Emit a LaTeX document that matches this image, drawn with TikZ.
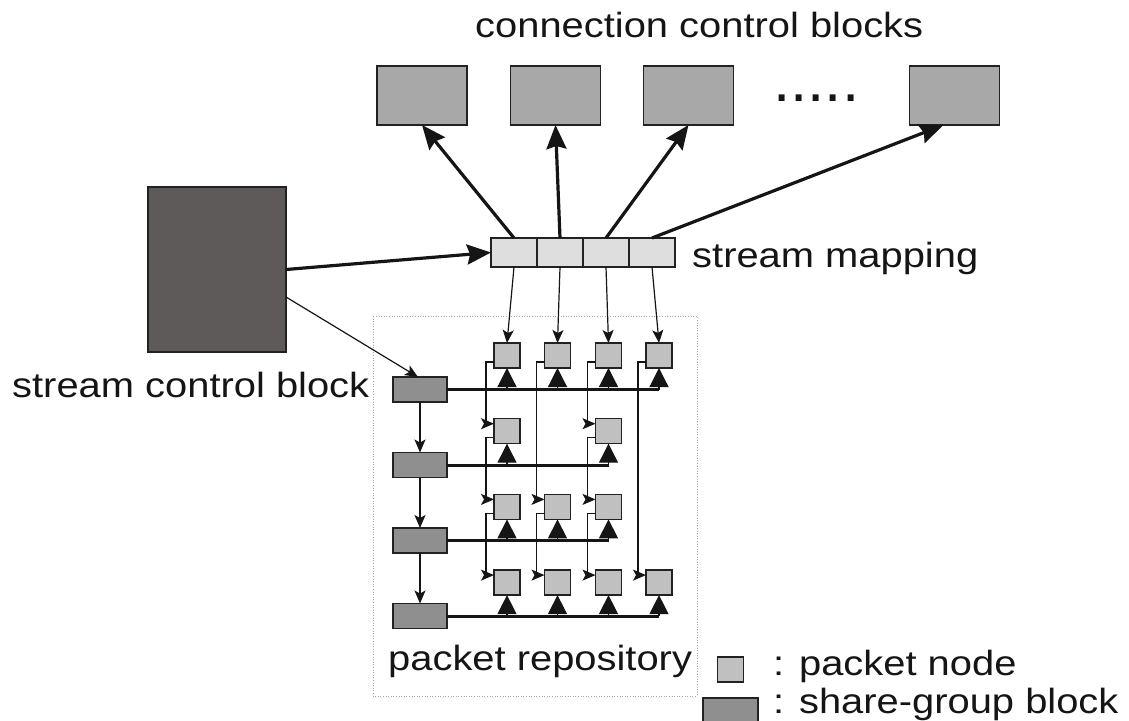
\documentclass[tikz,border=0pt]{standalone}
\usepackage{fontspec}
\setmainfont{Liberation Sans}[FakeStretch=1.14]
\newfontfamily\dotfont{Liberation Sans}
\usetikzlibrary{arrows.meta,calc}

\definecolor{ccbgray}{HTML}{A8A8A8}
\definecolor{scbgray}{HTML}{5E5A59}
\definecolor{mapgray}{HTML}{DEDEDE}
\definecolor{pktgray}{HTML}{C0C0C0}
\definecolor{sgbgray}{HTML}{8F8F8F}
\definecolor{edge}{HTML}{222222}
\definecolor{ink}{HTML}{151515}

\begin{document}
\begin{tikzpicture}[x=1pt,y=-1pt,
  box/.style={draw=edge, line width=1.3pt, inner sep=0pt, outer sep=0pt},
  ccb/.style={box, fill=ccbgray, minimum width=90pt, minimum height=59pt},
  scb/.style={box, fill=scbgray, minimum width=138pt, minimum height=165pt},
  mapcell/.style={box, fill=mapgray, minimum width=46pt, minimum height=29pt},
  pkt/.style={box, fill=pktgray, minimum width=26pt, minimum height=25pt},
  sgb/.style={box, fill=sgbgray, minimum width=54pt, minimum height=25pt},
  lbl/.style={inner sep=0pt, anchor=base west, text=ink, font=\fontsize{35}{42}\selectfont},
  bigarrow/.style={draw=ink, line width=3.2pt, -{Stealth[length=24pt,width=20pt,inset=3pt]}},
  thinarrow/.style={draw=ink, line width=1.2pt, -{Stealth[length=13pt,width=11pt,inset=3pt]}},
  ptr/.style={draw=ink, line width=1.2pt, -{Stealth[length=13pt,width=11pt,inset=3pt]}},
  bus/.style={draw=ink, line width=3pt},
  uparrow/.style={draw=ink, line width=1.2pt, -{Triangle[length=19pt,width=19pt]}},
]
\useasboundingbox (0,0) rectangle (1129,720);
\clip (0,0) rectangle (1129,720);

% connection control blocks
\node[lbl] (title) at (475,37) {connection control blocks};
\node[ccb] (c1) at (422,95.5) {};
\node[ccb] (c2) at (555.5,95.5) {};
\node[ccb] (c3) at (688.5,95.5) {};
\node[ccb] (c4) at (954.5,95.5) {};
\node[inner sep=0pt, anchor=base west, text=ink, font=\dotfont\fontsize{62}{62}\selectfont] (dots) at (773,101) {.....};

% stream control block
\node[scb] (scb) at (217,269.5) {};
\node[lbl] (scblbl) at (12,397) {stream control block};

% stream mapping table
\node[mapcell] (m1) at (514,252.5) {};
\node[mapcell] (m2) at (560,252.5) {};
\node[mapcell] (m3) at (606,252.5) {};
\node[mapcell] (m4) at (652,252.5) {};
\node[lbl] (maplbl) at (692,267) {stream mapping};

% packet repository frame
\draw[draw=black!35, line width=0.8pt, dash pattern=on 1pt off 1.6pt] (373,316) rectangle (697,696);
\node[lbl] (repolbl) at (388,670) {packet repository};

% share-group blocks
\node[sgb] (s1) at (420,389.5) {};
\node[sgb] (s2) at (420,465) {};
\node[sgb] (s3) at (420,540.5) {};
\node[sgb] (s4) at (420,616) {};

% packet nodes
\node[pkt] (p11) at (507,355.5) {};
\node[pkt] (p12) at (557.5,355.5) {};
\node[pkt] (p13) at (608.5,355.5) {};
\node[pkt] (p14) at (659,355.5) {};
\node[pkt] (p21) at (507,431.2) {};
\node[pkt] (p23) at (608.5,431.2) {};
\node[pkt] (p31) at (507,506.9) {};
\node[pkt] (p32) at (557.5,506.9) {};
\node[pkt] (p33) at (608.5,506.9) {};
\node[pkt] (p41) at (507,582.6) {};
\node[pkt] (p42) at (557.5,582.6) {};
\node[pkt] (p43) at (608.5,582.6) {};
\node[pkt] (p44) at (659,582.6) {};

% legend
\node[pkt] (lgpkt) at (730.5,669.5) {};
\node[sgb, minimum width=55pt] (lgsgb) at (730.5,710.5) {};
\node[lbl] (lgpktlbl) at (773,675) {: packet node};
\node[lbl] (lgsgblbl) at (773,713) {: share-group block};

% stream control block to mapping and first share-group block
\draw[bigarrow] (scb.east) -- (m1.west);
\draw[thinarrow] ($(scb.east)+(0,27.5)$) -- ($(s1.north)+(-2,0)$);

% mapping to connection control blocks
\draw[bigarrow] (m1.north) -- (c1.south);
\draw[bigarrow] (m2.north) -- (c2.south);
\draw[bigarrow] (m3.north) -- (c3.south);
\draw[bigarrow] (m4.north) -- ($(c4.south)+(-11,0)$);

% mapping to first packet nodes
\draw[thinarrow] (m1.south) -- (p11.north);
\draw[thinarrow] (m2.south) -- (p12.north);
\draw[thinarrow] (m3.south) -- (p13.north);
\draw[thinarrow] (m4.south) -- (p14.north);

% share-group chain
\draw[thinarrow] (s1.south) -- (s2.north);
\draw[thinarrow] (s2.south) -- (s3.north);
\draw[thinarrow] (s3.south) -- (s4.north);

% share-group buses
\draw[bus] (s1.east) -- (s1.east -| p14.south);
\draw[bus] (s2.east) -- (s2.east -| p23.south);
\draw[bus] (s3.east) -- (s3.east -| p33.south);
\draw[bus] (s4.east) -- (s4.east -| p44.south);

\foreach \p in {p11,p12,p13,p14}
  \draw[uparrow] (\p.south |- s1.east) -- (\p.south);
\foreach \p in {p21,p23}
  \draw[uparrow] (\p.south |- s2.east) -- (\p.south);
\foreach \p in {p31,p32,p33}
  \draw[uparrow] (\p.south |- s3.east) -- (\p.south);
\foreach \p in {p41,p42,p43,p44}
  \draw[uparrow] (\p.south |- s4.east) -- (\p.south);

% next-packet pointers within each stream
\foreach \a/\b in {p11/p21,p21/p31,p31/p41,p12/p32,p32/p42,p13/p23,p23/p33,p33/p43,p14/p44}
  \draw[ptr] ($(\a.south west)+(0,-6)$) -- ++(-8,0) |- ($(\b.north west)+(0,5)$);
\end{tikzpicture}
\end{document}
